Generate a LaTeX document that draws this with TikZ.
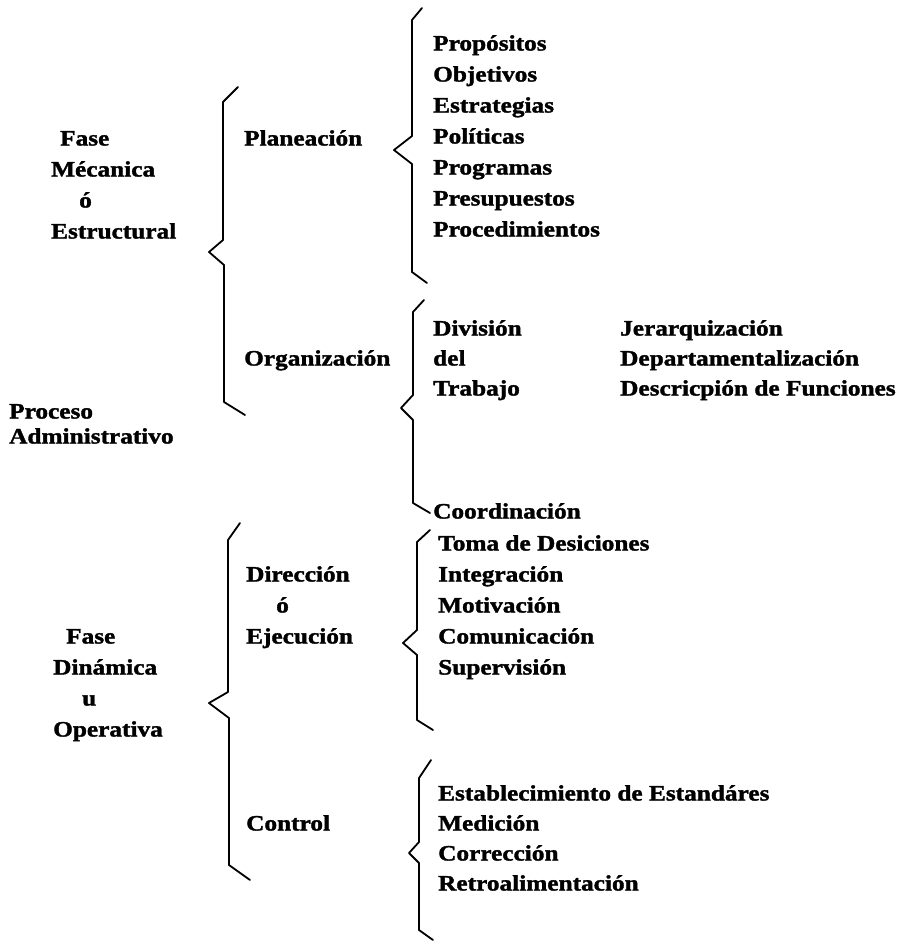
\documentclass[tikz,border=0pt]{standalone}
\usepackage{fontspec}
\setmainfont{Liberation Serif}[FakeStretch=1.15, BoldFeatures={FakeBold=1.6}]
\begin{document}
\begin{tikzpicture}[x=1pt,y=-1pt,
  lbl/.style={anchor=west, inner sep=0pt, font=\fontsize{22}{26}\selectfont\bfseries, text height=15pt, text depth=4pt},
  brc/.style={line width=1.8pt, line join=round, line cap=round}]
\useasboundingbox (0,0) rectangle (903,943);
% left column
\node[lbl] (fase1) at (60,140) {Fase};
\node[lbl] (mec) at (51,171) {Mécanica};
\node[lbl] (o1) at (79,202) {ó};
\node[lbl] (estr) at (51,233) {Estructural};
\node[lbl] (proc) at (9,413) {Proceso};
\node[lbl] (adm) at (9,438) {Administrativo};
\node[lbl] (fase2) at (66,638) {Fase};
\node[lbl] (din) at (53,669) {Dinámica};
\node[lbl] (u) at (82,700) {u};
\node[lbl] (oper) at (53,731) {Operativa};
% second column
\node[lbl] (plan) at (244,140) {Planeación};
\node[lbl] (org) at (244,360) {Organización};
\node[lbl] (dir) at (246,576) {Dirección};
\node[lbl] (o2) at (276,607) {ó};
\node[lbl] (ejec) at (246,638) {Ejecución};
\node[lbl] (ctrl) at (246,825) {Control};
% planeacion list
\node[lbl] (p1) at (433,45) {Propósitos};
\node[lbl] (p2) at (433,76) {Objetivos};
\node[lbl] (p3) at (433,107) {Estrategias};
\node[lbl] (p4) at (433,138) {Políticas};
\node[lbl] (p5) at (433,169) {Programas};
\node[lbl] (p6) at (433,200) {Presupuestos};
\node[lbl] (p7) at (433,231) {Procedimientos};
% organizacion
\node[lbl] (d1) at (433,330) {División};
\node[lbl] (d2) at (433,360) {del};
\node[lbl] (d3) at (433,390) {Trabajo};
\node[lbl] (j1) at (620,330) {Jerarquización};
\node[lbl] (j2) at (620,360) {Departamentalización};
\node[lbl] (j3) at (620,390) {Descricpión de Funciones};
\node[lbl] (coord) at (433,513) {Coordinación};
% direccion list
\node[lbl] (t1) at (438,545) {Toma de Desiciones};
\node[lbl] (t2) at (438,576) {Integración};
\node[lbl] (t3) at (438,607) {Motivación};
\node[lbl] (t4) at (438,638) {Comunicación};
\node[lbl] (t5) at (438,669) {Supervisión};
% control list
\node[lbl] (c1) at (438,795) {Establecimiento de Estandáres};
\node[lbl] (c2) at (438,825) {Medición};
\node[lbl] (c3) at (438,855) {Corrección};
\node[lbl] (c4) at (438,885) {Retroalimentación};
% braces
\draw[brc] (238,87) -- (223,102) -- (223,240) -- (209,252) -- (224,265) -- (224,402) -- (245,415);
\draw[brc] (422,8) -- (412,20) -- (412,136) -- (394,150) -- (412,164) -- (412,272) -- (427,283);
\draw[brc] (424,300) -- (413,312) -- (413,395) -- (401,408) -- (413,420) -- (413,503) -- (430,513);
\draw[brc] (240,523) -- (228,540) -- (228,692) -- (209,703) -- (229,718) -- (229,865) -- (250,880);
\draw[brc] (430,530) -- (417,542) -- (417,630) -- (403,643) -- (417,655) -- (417,720) -- (433,730);
\draw[brc] (431,760) -- (419,778) -- (419,842) -- (409,853) -- (419,863) -- (419,930) -- (433,940);
\end{tikzpicture}
\end{document}
